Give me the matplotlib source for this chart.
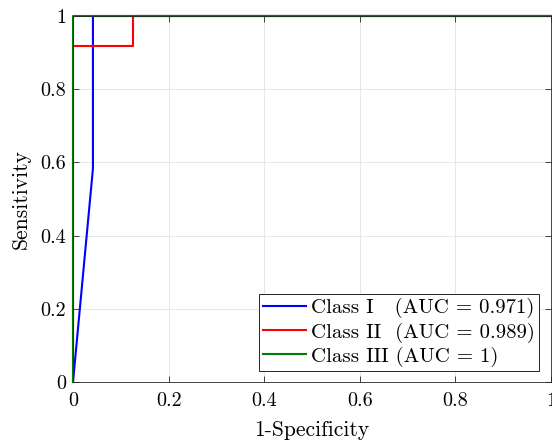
import matplotlib
matplotlib.use("Agg")
import matplotlib.pyplot as plt

# ROC points per class (1-specificity, sensitivity)
fpr_1 = [0, 0.0417, 0.0417, 1]
tpr_1 = [0, 0.583, 1, 1]
fpr_2 = [0, 0, 0.125, 0.125, 1]
tpr_2 = [0, 0.917, 0.917, 1, 1]
fpr_3 = [0, 0, 1]
tpr_3 = [0, 1, 1]

labels = ['Class I   (AUC = 0.971)',
          'Class II  (AUC = 0.989)',
          'Class III (AUC = 1)']
colors = ['#0000ff', '#ff0000', '#007f00']
ticks = [0, 0.2, 0.4, 0.6, 0.8, 1]
tick_labels = ['0', '0.2', '0.4', '0.6', '0.8', '1']

plt.rcParams['font.family'] = 'cmr10'
plt.rcParams['mathtext.fontset'] = 'cm'
plt.rcParams['axes.formatter.use_mathtext'] = True

fig = plt.figure(figsize=(5.52, 4.43), dpi=100)
ax = fig.add_axes([73 / 552, 1 - 382 / 443, 478 / 552, 366 / 443])

for x, y, c, lab in zip([fpr_1, fpr_2, fpr_3], [tpr_1, tpr_2, tpr_3], colors, labels):
    ax.plot(x, y, color=c, linewidth=1.5, label=lab, clip_on=False)

ax.set_xlim(0, 1)
ax.set_ylim(0, 1)
ax.set_xticks(ticks)
ax.set_xticklabels(tick_labels)
ax.set_yticks(ticks)
ax.set_yticklabels(tick_labels)
ax.tick_params(direction='in', top=True, right=True, labelsize=14.5,
               length=4, width=0.6, color='#262626')
ax.tick_params(axis='x', pad=7)
ax.tick_params(axis='y', pad=5)
ax.grid(True, color='#e3e3e3', linewidth=0.6)
ax.set_axisbelow(True)
for s in ax.spines.values():
    s.set_linewidth(0.6)
    s.set_color('#262626')

ax.set_xlabel('1-Specificity', fontsize=15.5, labelpad=8)
ax.set_ylabel('Sensitivity', fontsize=15.5, labelpad=7)

leg = ax.legend(loc='lower right', bbox_to_anchor=(539 / 552, 1 - 371 / 443),
                bbox_transform=fig.transFigure, borderaxespad=0,
                fontsize=15, fancybox=False, framealpha=1,
                edgecolor='black', borderpad=0.2, labelspacing=0.2,
                handlelength=2.05, handletextpad=0.25)
leg.get_frame().set_linewidth(0.6)

fig.savefig('out.png', dpi=100)
